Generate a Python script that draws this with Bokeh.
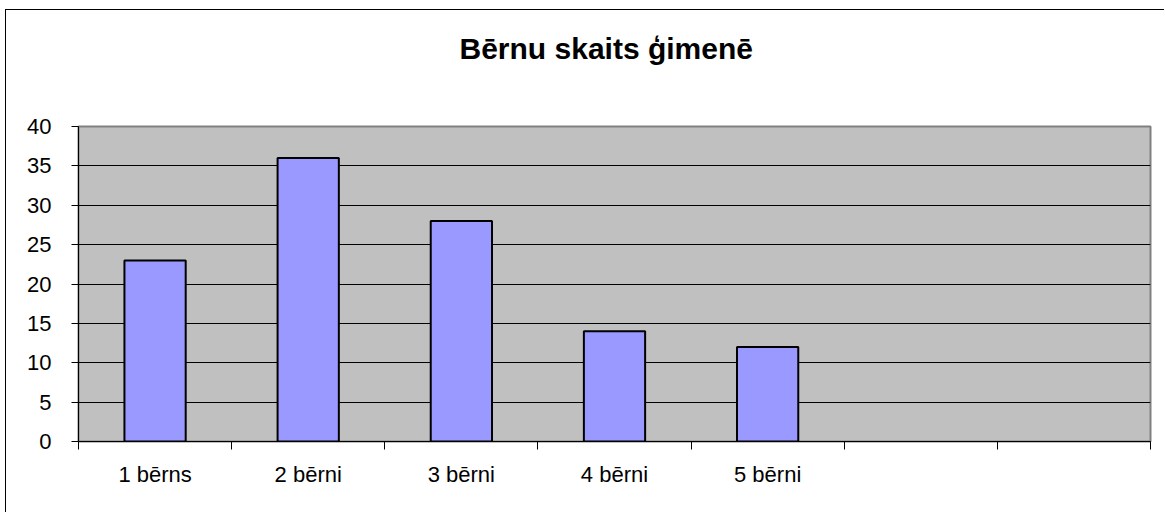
from bokeh.plotting import figure
from bokeh.models import Range1d, FixedTicker, ColumnDataSource, Title
from bokeh.embed import file_html
from bokeh.resources import INLINE

# Data
title_text = "Bērnu skaits ģimenē"
categories = ["1 bērns", "2 bērni", "3 bērni", "4 bērni", "5 bērni"]
values = [23, 36, 28, 14, 12]
n_slots = 7  # the category axis has two empty slots at the right
y_max = 40
y_ticks = [0, 5, 10, 15, 20, 25, 30, 35, 40]

centers = [i + 0.5 for i in range(len(categories))]
src = ColumnDataSource(dict(x=centers, top=values, cat=categories))

p = figure(width=1159, height=503, output_backend="svg", toolbar_location=None,
           x_range=Range1d(0, n_slots), y_range=Range1d(0, y_max),
           min_border_left=72, min_border_right=15, min_border_top=116, min_border_bottom=72)

# outer chart border (only left and top edges visible in the reference)
p.styles = {"box-shadow": "-1px -1px 0 0 black",
            "margin-left": "6px", "margin-top": "10px"}

p.title.text = title_text
p.title.align = "left"
p.title.offset = 381
p.title.standoff = 10
p.title.text_font = "Liberation Sans"
p.title.text_font_size = "30px"
p.title.text_font_style = "bold"
p.title.text_color = "black"

# spacer between the title and the plot area
p.add_layout(Title(text=" ", text_font_size="10px", standoff=44), "above")

p.background_fill_color = "#C0C0C0"
p.border_fill_color = "white"
p.outline_line_color = "#808080"
p.outline_line_width = 2

p.vbar(x="x", top="top", width=0.4, source=src, fill_color="#9999FF",
       line_color="black", line_width=2)

# x axis: labels at slot centres, tick marks at slot boundaries
xt = FixedTicker(ticks=centers, minor_ticks=list(range(n_slots + 1)))
p.xaxis.ticker = xt
p.xaxis.major_label_overrides = {c: lab for c, lab in zip(centers, categories)}
p.xaxis.major_tick_out = 0
p.xaxis.major_tick_in = 0
p.xaxis.minor_tick_out = 8
p.xaxis.minor_tick_in = 0
p.xaxis.minor_tick_line_color = "black"
p.xaxis.major_label_standoff = 12

p.yaxis.ticker = FixedTicker(ticks=y_ticks, minor_ticks=[])
p.yaxis.major_tick_out = 7
p.yaxis.major_tick_in = 0
p.yaxis.major_label_standoff = 20

for ax in (p.xaxis, p.yaxis):
    ax.axis_line_color = "black"
    ax.axis_line_width = 1
    ax.major_tick_line_color = "black"
    ax.major_label_text_font = "Liberation Sans"
    ax.major_label_text_font_size = "22px"
    ax.major_label_text_color = "black"

p.xgrid.visible = False
p.ygrid.ticker = FixedTicker(ticks=y_ticks[1:-1])
p.ygrid.grid_line_color = "black"
p.ygrid.grid_line_width = 1

open("out.html", "w").write(file_html(p, INLINE))
